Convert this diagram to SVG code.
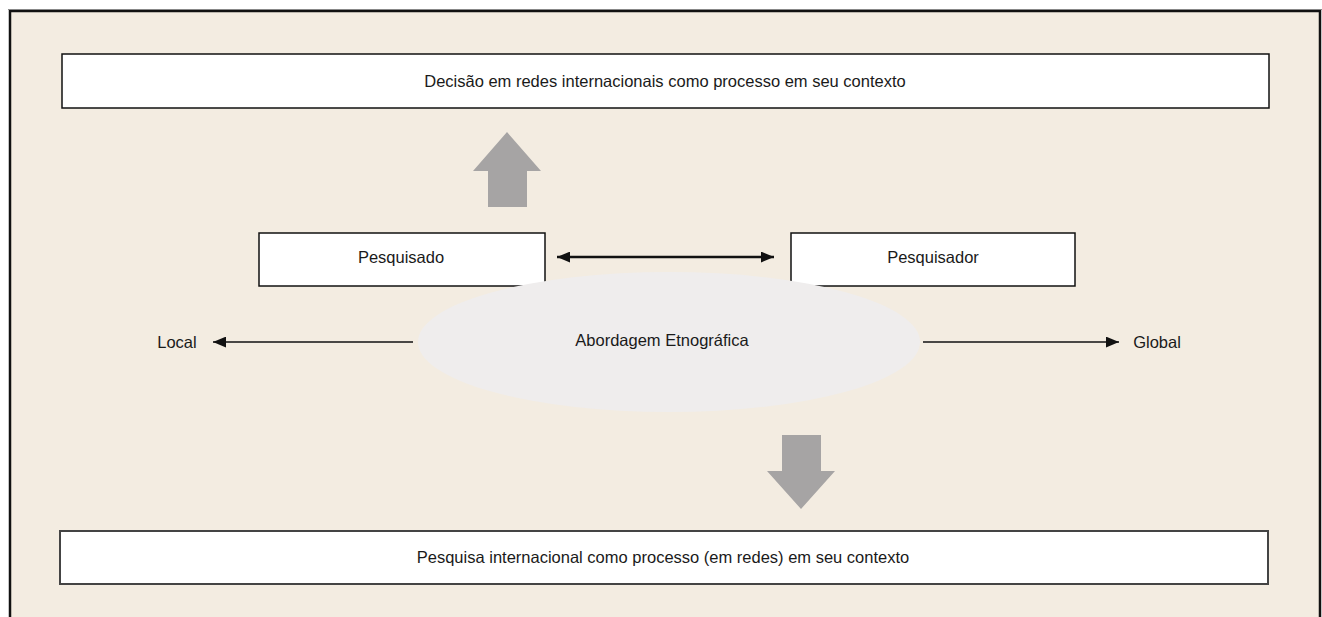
<svg xmlns="http://www.w3.org/2000/svg" width="1322" height="617" viewBox="0 0 1322 617">
<style>
.box{fill:#ffffff;stroke:#111;stroke-width:1.5}
.t{font-family:"Liberation Sans",Arial,sans-serif;font-size:16.5px;fill:#1a1a1a;text-anchor:middle}
.ln{stroke:#111;fill:none}
.big{fill:#a6a4a4}
</style>
<defs>
<marker id="ah" viewBox="0 0 12 10" refX="12" refY="5" markerWidth="13" markerHeight="11" markerUnits="userSpaceOnUse" orient="auto-start-reverse">
<path d="M0,0 L12,5 L0,10 z" fill="#111"/>
</marker>
</defs>
<rect x="0" y="0" width="1322" height="617" fill="#ffffff"/>
<path d="M10,618 L10,11 L1320,11 L1320,618" fill="#f3ece1" stroke="#111" stroke-width="2.5"/>
<line x1="8" y1="9.5" x2="1322" y2="9.5" stroke="#888" stroke-width="1"/>

<g id="top-box">
<rect class="box" x="62" y="54" width="1207" height="54"/>
<text class="t" x="665" y="87">Decisão em redes internacionais como processo em seu contexto</text>
</g>

<g id="pesquisado">
<rect class="box" x="259" y="233" width="286" height="53"/>
<text class="t" x="401" y="263">Pesquisado</text>
</g>

<g id="pesquisador">
<rect class="box" x="791" y="233" width="284" height="53"/>
<text class="t" x="933" y="263">Pesquisador</text>
</g>

<g id="ellipse">
<ellipse cx="669" cy="342" rx="251" ry="70" fill="#efeded"/>
<text class="t" x="662" y="346">Abordagem Etnográfica</text>
</g>

<g id="local"><text class="t" x="177" y="348">Local</text></g>
<g id="global"><text class="t" x="1157" y="348">Global</text></g>

<g id="bottom-box">
<rect x="60" y="531" width="1208" height="53" fill="#fff" stroke="#444" stroke-width="2"/>
<text class="t" x="663" y="563">Pesquisa internacional como processo (em redes) em seu contexto</text>
</g>

<g id="connectors">
<line class="ln" x1="557" y1="257" x2="774" y2="257" stroke-width="2.5" marker-start="url(#ah)" marker-end="url(#ah)"/>
<line class="ln" x1="413" y1="342" x2="213" y2="342" stroke-width="1.5" marker-end="url(#ah)"/>
<line class="ln" x1="923" y1="342" x2="1119" y2="342" stroke-width="1.5" marker-end="url(#ah)"/>
<polygon class="big" points="507,132 541,171 527,171 527,207 488,207 488,171 473,171"/>
<polygon class="big" points="782,435 821,435 821,471 835,471 801,509 767,471 782,471"/>
</g>
</svg>
